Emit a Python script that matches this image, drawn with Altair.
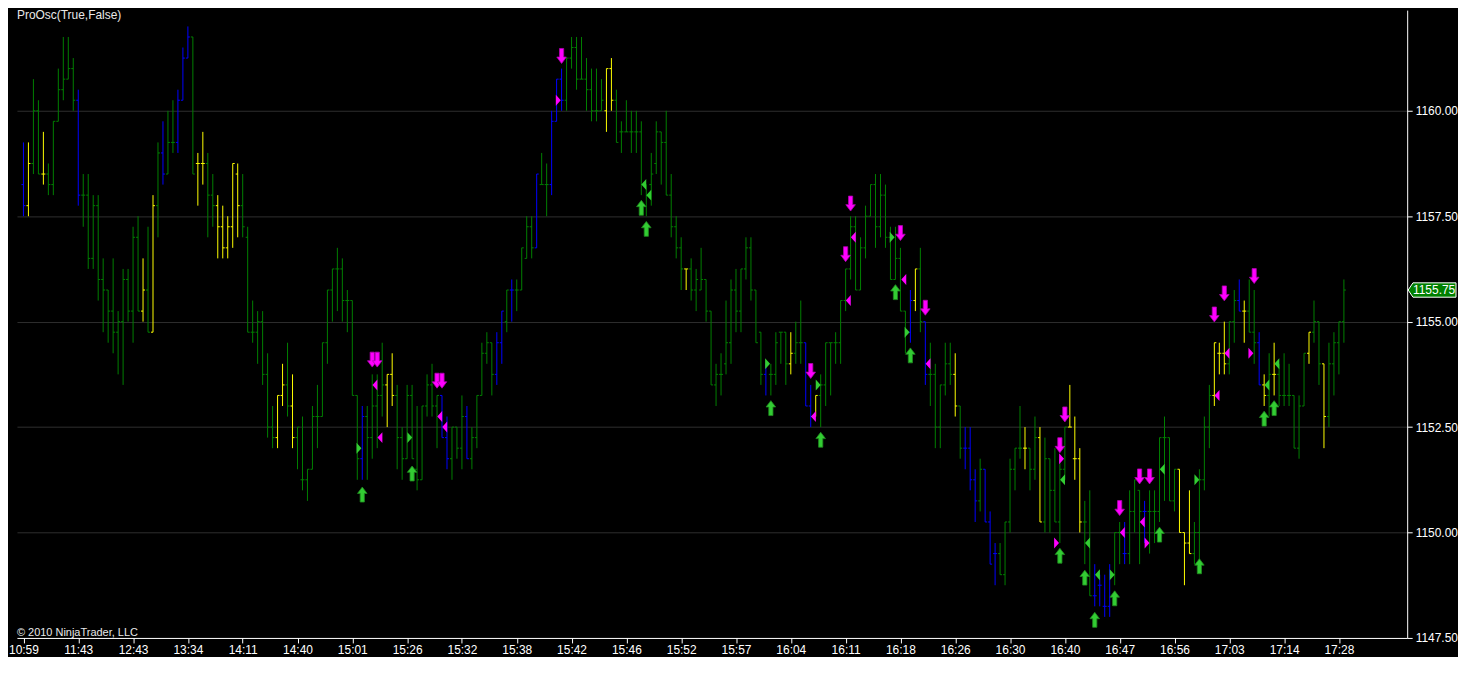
import altair as alt
import pandas as pd

# ---------------- data (one row = 10 bars) ----------------
highs = [
    1159.25,1159.25,1160.75,1160.25,1159.5,1158.75,1159.75,1161.0,1161.75,1161.75,
    1161.25,1160.5,1158.5,1158.5,1158.0,1158.0,1156.5,1155.75,1156.5,1155.25,
    1156.25,1156.25,1157.25,1157.5,1156.5,1157.25,1158.0,1159.25,1159.75,1160.0,
    1160.25,1160.5,1161.5,1162.0,1161.75,1159.0,1159.5,1159.0,1158.5,1158.0,
    1157.75,1157.5,1158.75,1158.75,1158.5,1157.25,1155.5,1155.25,1155.25,1154.25,
    1153.0,1153.25,1154.0,1154.5,1153.75,1152.5,1152.75,1151.5,1153.0,1153.5,
    1154.5,1155.75,1156.25,1156.75,1156.5,1155.75,1155.5,1153.25,1153.0,1153.0,
    1153.75,1153.75,1154.5,1153.75,1154.25,1153.5,1152.5,1153.5,1153.5,1153.0,
    1153.0,1153.75,1154.0,1153.25,1153.25,1152.75,1152.5,1152.5,1153.25,1153.0,
    1152.5,1153.25,1154.5,1154.75,1154.5,1154.75,1155.25,1155.75,1156.0,1156.0,
    1156.75,1157.5,1157.5,1158.5,1159.0,1158.75,1160.0,1160.75,1161.0,1161.25,
    1161.75,1161.75,1161.75,1161.25,1161.0,1161.0,1160.75,1161.0,1161.25,1160.5,
    1159.75,1160.25,1160.0,1160.0,1159.75,1158.25,1159.0,1159.75,1159.5,1160.0,
    1158.5,1157.5,1157.0,1156.25,1156.5,1156.25,1156.75,1156.0,1155.25,1154.0,
    1154.25,1155.5,1156.0,1156.25,1156.25,1157.0,1157.0,1155.75,1154.75,1154.0,
    1154.0,1154.75,1154.75,1154.75,1154.75,1155.0,1155.5,1154.5,1153.5,1153.25,
    1153.75,1154.5,1154.5,1154.75,1155.5,1156.25,1157.5,1157.5,1157.0,1157.75,
    1158.25,1158.5,1158.5,1158.25,1157.25,1157.25,1156.75,1155.25,1155.75,1156.25,
    1156.75,1155.0,1154.5,1154.0,1153.5,1154.5,1154.5,1154.25,1153.0,1152.5,
    1152.5,1151.5,1151.75,1151.5,1150.5,1149.75,1149.75,1150.25,1151.75,1152.0,
    1153.0,1152.5,1152.0,1152.75,1152.5,1152.25,1151.75,1152.0,1151.75,1152.5,
    1153.5,1152.75,1152.0,1150.75,1151.0,1149.25,1149.0,1149.0,1149.25,1150.0,
    1150.25,1150.25,1151.0,1151.25,1151.0,1150.75,1151.0,1151.0,1152.25,1152.75,
    1152.25,1151.5,1151.5,1150.0,1151.0,1150.25,1151.5,1152.75,1153.5,1154.5,
    1154.5,1155.0,1155.0,1155.75,1156.0,1155.5,1156.0,1155.75,1154.75,1153.75,
    1154.25,1154.5,1154.0,1154.25,1154.0,1153.25,1153.25,1154.25,1154.75,1155.5,
    1155.0,1154.0,1154.5,1154.75,1155.0,1156.0]
lows = [
    1157.5,1157.5,1158.5,1158.5,1158.25,1158.0,1158.0,1159.75,1160.25,1160.75,
    1160.0,1157.75,1157.25,1156.25,1156.25,1155.5,1154.75,1154.5,1154.25,1153.75,
    1153.5,1155.0,1154.5,1155.25,1155.0,1154.75,1154.75,1157.0,1158.25,1158.5,
    1159.0,1159.0,1160.25,1161.25,1158.5,1157.75,1158.25,1157.0,1157.25,1156.5,
    1156.5,1156.5,1156.75,1157.0,1157.0,1154.75,1154.5,1154.0,1153.5,1152.25,
    1152.0,1152.0,1153.0,1152.75,1152.0,1151.5,1151.0,1150.75,1151.5,1152.0,
    1152.75,1154.0,1155.0,1155.25,1155.0,1154.75,1153.25,1151.25,1151.25,1151.25,
    1151.75,1152.0,1152.75,1152.5,1153.0,1151.5,1151.25,1151.75,1151.75,1151.0,
    1151.25,1152.75,1152.75,1152.0,1152.25,1151.5,1151.25,1151.75,1151.5,1151.75,
    1151.5,1152.0,1153.25,1154.0,1153.25,1153.5,1154.0,1154.75,1155.0,1155.25,
    1155.75,1156.5,1156.5,1156.75,1158.25,1157.5,1158.0,1159.75,1160.0,1160.0,
    1161.0,1160.5,1160.75,1160.0,1159.75,1159.75,1160.0,1159.5,1160.0,1159.25,
    1159.0,1159.5,1159.0,1159.0,1158.0,1157.5,1157.75,1158.5,1158.25,1158.0,
    1157.0,1156.5,1155.75,1155.75,1155.5,1155.25,1155.75,1155.0,1153.5,1153.0,
    1153.25,1153.75,1154.0,1154.75,1154.75,1156.0,1155.5,1154.5,1153.5,1153.25,
    1153.25,1153.5,1154.0,1153.5,1153.75,1154.0,1154.0,1153.0,1152.5,1152.75,
    1152.5,1153.0,1153.25,1154.0,1154.0,1155.25,1156.0,1155.75,1155.75,1156.5,
    1157.5,1156.75,1157.0,1156.75,1156.0,1156.0,1155.25,1154.25,1154.5,1155.25,
    1154.75,1153.5,1153.0,1152.0,1152.0,1153.25,1153.5,1152.75,1151.75,1151.5,
    1151.0,1150.25,1150.5,1150.25,1149.25,1148.75,1149.0,1148.75,1150.0,1151.0,
    1151.75,1151.5,1151.0,1151.25,1150.25,1150.0,1150.0,1150.25,1149.75,1151.25,
    1152.5,1151.25,1150.0,1149.25,1148.5,1148.25,1148.25,1148.0,1148.0,1148.75,
    1149.25,1149.25,1149.25,1150.0,1149.25,1149.75,1149.5,1149.75,1150.25,1150.75,
    1150.75,1150.5,1150.0,1148.75,1149.5,1149.25,1149.25,1151.0,1152.0,1153.0,
    1153.75,1153.75,1153.75,1154.5,1155.25,1154.5,1154.75,1154.0,1153.5,1153.0,
    1152.75,1153.25,1153.0,1153.0,1153.0,1152.0,1151.75,1153.0,1154.0,1154.5,
    1153.5,1152.0,1152.5,1153.25,1153.75,1154.5]
opens = [
    1158.25,1157.75,1158.75,1160.0,1158.5,1158.5,1158.25,1159.75,1160.5,1160.75,
    1161.0,1160.25,1158.0,1158.0,1156.5,1157.75,1156.0,1155.75,1155.25,1154.75,
    1155.0,1156.0,1155.25,1157.0,1155.25,1155.75,1154.75,1157.75,1159.0,1158.5,
    1159.25,1159.25,1160.25,1161.25,1161.75,1158.75,1158.75,1158.75,1158.0,1157.75,
    1157.25,1156.75,1157.25,1158.5,1157.75,1157.0,1154.75,1154.75,1155.0,1153.75,
    1152.5,1152.25,1153.25,1153.5,1153.0,1152.25,1151.25,1151.25,1151.5,1152.75,
    1152.75,1154.5,1155.75,1156.25,1156.25,1155.5,1155.5,1153.25,1151.75,1152.75,
    1152.25,1153.0,1153.25,1153.5,1153.75,1153.25,1152.25,1151.75,1153.25,1151.5,
    1151.25,1153.0,1153.5,1153.0,1153.25,1152.25,1151.75,1152.5,1152.0,1152.75,
    1151.75,1152.25,1153.25,1154.25,1154.5,1153.75,1154.5,1155.0,1155.75,1155.75,
    1155.75,1156.5,1157.25,1156.75,1158.25,1158.25,1158.25,1159.75,1160.75,1160.25,
    1161.25,1161.5,1160.75,1160.75,1160.5,1160.0,1160.0,1160.0,1161.0,1160.25,
    1159.5,1159.5,1159.5,1159.5,1159.5,1158.25,1158.25,1158.75,1159.5,1159.25,
    1158.0,1157.25,1156.75,1156.25,1156.25,1155.75,1155.75,1156.0,1155.25,1153.5,
    1153.75,1154.0,1154.5,1155.75,1155.25,1156.25,1156.75,1155.75,1154.75,1153.75,
    1153.75,1153.75,1154.75,1154.75,1154.0,1154.25,1154.5,1154.5,1153.0,1152.75,
    1153.25,1153.5,1154.5,1154.5,1154.5,1155.5,1156.25,1157.25,1155.75,1156.75,
    1157.5,1158.25,1157.25,1158.0,1157.0,1156.0,1156.5,1155.25,1154.75,1155.5,
    1156.25,1155.0,1153.75,1153.75,1152.5,1153.5,1154.0,1153.75,1153.0,1152.0,
    1152.0,1151.25,1150.75,1151.5,1150.25,1149.5,1149.5,1149.0,1150.25,1151.5,
    1152.0,1152.0,1152.0,1151.5,1152.25,1150.25,1151.75,1151.0,1150.25,1151.5,
    1152.5,1151.75,1151.75,1150.25,1149.75,1148.5,1148.75,1148.25,1148.25,1149.0,
    1150.0,1149.5,1149.5,1150.5,1151.0,1150.5,1150.5,1150.5,1150.5,1152.25,
    1152.25,1150.75,1151.5,1150.0,1149.75,1149.5,1150.0,1151.25,1152.5,1153.25,
    1154.25,1154.25,1154.0,1155.0,1155.5,1155.25,1155.25,1154.75,1154.5,1153.5,
    1153.25,1153.75,1153.75,1153.25,1153.25,1153.25,1152.0,1153.0,1154.25,1154.75,
    1155.0,1154.0,1152.75,1154.0,1154.5,1155.0]
closes = [
    1157.75,1158.75,1160.0,1158.5,1158.5,1158.25,1159.75,1160.5,1160.75,1161.0,
    1160.25,1158.0,1158.0,1156.5,1157.75,1156.0,1155.75,1155.25,1154.75,1155.0,
    1156.0,1155.25,1157.0,1155.25,1155.75,1154.75,1157.75,1159.0,1158.5,1159.25,
    1159.25,1160.25,1161.25,1161.75,1158.5,1158.75,1158.75,1158.0,1157.75,1157.25,
    1156.75,1157.25,1158.75,1157.75,1157.25,1154.75,1154.75,1155.0,1153.75,1152.5,
    1152.25,1153.25,1153.5,1153.0,1152.25,1152.5,1151.25,1151.5,1152.75,1152.75,
    1154.5,1155.75,1156.25,1156.25,1155.5,1155.5,1153.25,1151.75,1152.75,1152.25,
    1153.0,1153.25,1153.5,1153.75,1153.25,1152.25,1151.75,1153.25,1151.75,1151.25,
    1153.0,1153.5,1153.0,1153.25,1152.25,1151.75,1152.5,1152.0,1152.75,1151.75,
    1152.25,1153.25,1154.25,1154.5,1153.75,1154.5,1155.25,1155.75,1155.75,1155.75,
    1156.75,1157.25,1156.75,1158.5,1158.25,1158.25,1159.75,1160.75,1160.25,1161.25,
    1161.5,1160.75,1160.75,1160.5,1160.0,1160.0,1160.25,1161.0,1160.25,1159.25,
    1159.5,1159.5,1159.5,1159.5,1158.25,1158.0,1158.5,1159.5,1159.25,1158.0,
    1157.25,1156.75,1156.25,1156.25,1155.75,1156.0,1156.0,1155.25,1153.5,1153.75,
    1153.75,1154.5,1155.75,1155.25,1156.25,1156.75,1155.75,1154.5,1153.75,1154.0,
    1153.75,1154.5,1154.75,1154.0,1154.25,1154.5,1154.5,1153.0,1152.75,1153.25,
    1153.5,1154.5,1154.5,1154.5,1155.5,1156.25,1157.25,1155.75,1156.75,1157.5,
    1158.25,1157.25,1158.0,1157.0,1156.0,1156.5,1155.25,1154.75,1155.5,1156.25,
    1155.0,1153.75,1153.75,1152.5,1153.5,1154.0,1153.75,1153.0,1152.0,1152.0,
    1151.25,1150.75,1151.5,1150.25,1149.25,1149.5,1149.0,1150.25,1151.5,1152.0,
    1152.0,1152.0,1151.5,1152.25,1150.25,1151.75,1151.0,1150.25,1151.5,1152.5,
    1152.5,1151.75,1150.25,1150.25,1148.5,1148.5,1148.75,1148.25,1149.0,1150.0,
    1150.0,1149.5,1150.5,1151.25,1150.5,1150.5,1150.5,1150.5,1152.25,1152.25,
    1150.75,1151.5,1150.0,1149.75,1149.5,1150.0,1151.25,1152.5,1153.25,1154.5,
    1154.25,1154.0,1155.0,1155.5,1155.25,1155.25,1154.75,1154.5,1153.5,1153.25,
    1153.75,1153.75,1153.25,1153.25,1153.25,1152.0,1153.0,1154.25,1154.75,1155.0,
    1154.0,1152.75,1154.0,1154.5,1155.0,1155.75]
bar_colors = [
    "b","y","g","g","y","g","g","g","g","g",
    "g","b","g","g","g","g","g","g","g","g",
    "g","g","g","g","y","g","y","g","b","g",
    "g","b","b","b","g","y","y","g","g","y",
    "y","y","y","y","g","g","g","g","g","g",
    "g","y","y","g","y","g","g","g","g","g",
    "g","g","g","g","g","g","g","g","b","g",
    "g","g","g","y","y","g","g","g","g","g",
    "g","g","g","g","b","b","g","g","g","b",
    "g","g","g","g","g","b","b","g","b","g",
    "g","g","g","b","g","g","b","b","b","g",
    "g","g","g","g","g","g","g","y","y","g",
    "g","g","g","g","g","g","g","g","g","g",
    "g","g","g","y","g","g","g","g","g","g",
    "g","g","g","g","g","g","g","g","g","b",
    "g","g","g","g","y","g","g","b","b","y",
    "g","g","g","g","g","g","g","g","g","g",
    "g","g","g","g","g","g","g","g","b","y",
    "g","b","g","g","g","g","g","y","g","b",
    "b","b","g","b","b","b","g","g","g","g",
    "g","y","g","g","y","g","g","g","g","g",
    "y","y","y","g","g","b","b","b","b","g",
    "g","b","g","g","g","b","g","g","g","g",
    "g","g","y","y","y","g","g","g","g","y",
    "y","y","g","g","b","y","g","g","b","y",
    "g","y","g","g","g","g","g","g","y","g",
    "g","y","g","g","g","g"]

time_labels = ["10:59", "11:43", "12:43", "13:34", "14:11", "14:40", "15:01", "15:26",
               "15:32", "15:38", "15:42", "15:46", "15:52", "15:57", "16:04", "16:11",
               "16:18", "16:26", "16:30", "16:40", "16:47", "16:56", "17:03", "17:14",
               "17:28"]

up_arrow_x = [68, 78, 124, 125, 150, 160, 175, 178, 208, 213, 215, 219, 228, 236, 249, 251]
up_arrow_y = [1150.9, 1151.4, 1157.7, 1157.2, 1152.95, 1152.2, 1155.7, 1154.2, 1149.45,
              1148.93, 1147.93, 1148.44, 1149.95, 1149.2, 1152.7, 1152.95]
down_arrow_x = [70, 71, 83, 84, 108, 158, 165, 166, 176, 181, 208, 209, 220, 224, 226,
                239, 241, 247]
down_arrow_y = [1154.1, 1154.1, 1153.6, 1153.6, 1161.3, 1153.83, 1156.6, 1157.8, 1157.1,
                1155.33, 1152.07, 1152.8, 1150.58, 1151.33, 1151.33, 1155.17, 1155.67,
                1156.08]
mag_left_x = [70.54, 71.54, 83.54, 84.54, 158.54, 165.54, 166.54, 176.67, 181.54, 220.54,
              224.54, 239.54, 241.54]
mag_left_y = [1153.5, 1152.25, 1152.75, 1152.5, 1152.75, 1155.5, 1157.0, 1156.0, 1154.0,
              1150.0, 1150.25, 1153.25, 1154.25]
mag_right_x = [107.34, 207.34, 208.34, 225.5, 246.34]
mag_right_y = [1160.25, 1149.75, 1151.75, 1149.75, 1154.25]
grn_left_x = [124.5, 125.5, 208.54, 213.54, 215.54, 228.54, 249.54, 251.54]
grn_left_y = [1158.25, 1158.0, 1151.25, 1149.75, 1149.0, 1151.5, 1153.5, 1154.0]
grn_right_x = [67.34, 77.54, 149.34, 159.5, 174.34, 177.34, 218.5, 235.5]
grn_right_y = [1152.0, 1152.25, 1154.0, 1153.5, 1157.0, 1154.75, 1149.0, 1151.25]

y_ticks = [1147.5, 1150.0, 1152.5, 1155.0, 1157.5, 1160.0]

# ---------------- build ----------------
n = min(len(highs), len(lows), len(opens), len(closes), len(bar_colors))
bars = pd.DataFrame({"i": list(range(n)), "high": highs[:n], "low": lows[:n],
                     "open": opens[:n], "close": closes[:n], "col": bar_colors[:n]})
last_price = [closes[n - 1]]

W, H = 1395, 630
xscale = alt.Scale(domain=[-1.3, 277.7], nice=False, zero=False)
yscale = alt.Scale(domain=[1147.5, 1162.387], nice=False, zero=False)
cscale = alt.Scale(domain=["g", "y", "b"], range=["#008000", "#ffff00", "#0000ff"])

label_js = "[" + ",".join("'%s'" % t for t in time_labels) + "][round(datum.value/11)]"
xaxis = alt.Axis(values=[11 * k for k in range(len(time_labels))], labelExpr=label_js,
                 grid=False, domainColor="white", tickColor="white", tickSize=5,
                 labelColor="white", labelFont="Liberation Sans", labelFontSize=12,
                 labelPadding=2, title=None, labelFlush=False)
yaxis = alt.Axis(orient="right", values=y_ticks, format=".2f", grid=True,
                 gridColor="#2e2e2e", domainColor="white", tickColor="white",
                 tickSize=5, labelColor="white", labelFont="Liberation Sans",
                 labelFontSize=12, labelPadding=3, title=None)

base = alt.Chart(bars)
hl = base.mark_rule(strokeWidth=1).encode(
    x=alt.X("i:Q", scale=xscale, axis=xaxis),
    y=alt.Y("high:Q", scale=yscale, axis=yaxis),
    y2="low:Q",
    color=alt.Color("col:N", scale=cscale, legend=None),
)
otick = base.transform_calculate(xo="datum.i - 0.4").mark_rule(strokeWidth=1).encode(
    x=alt.X("xo:Q", scale=xscale), x2="i:Q", y=alt.Y("open:Q", scale=yscale),
    color=alt.Color("col:N", scale=cscale, legend=None))
ctick = base.transform_calculate(xc="datum.i + 0.4").mark_rule(strokeWidth=1).encode(
    x=alt.X("xc:Q", scale=xscale), x2="i:Q", y=alt.Y("close:Q", scale=yscale),
    color=alt.Color("col:N", scale=cscale, legend=None))

UP = "M0,-1L0.64,-0.15L0.28,-0.15L0.28,1L-0.28,1L-0.28,-0.15L-0.64,-0.15Z"
DOWN = "M0,1L0.64,0.15L0.28,0.15L0.28,-1L-0.28,-1L-0.28,0.15L-0.64,0.15Z"
LEFT = "M-0.45,0L0.45,-1L0.45,1Z"
RIGHT = "M0.45,0L-0.45,-1L-0.45,1Z"


def markers(xs, ys, shape, color, size, stroke=None):
    df = pd.DataFrame({"x": xs, "y": ys})
    kw = dict(shape=shape, filled=True, size=size, fill=color, opacity=1)
    if stroke:
        kw.update(stroke=stroke, strokeWidth=0.8)
    else:
        kw.update(strokeWidth=0)
    return alt.Chart(df).mark_point(**kw).encode(
        x=alt.X("x:Q", scale=xscale), y=alt.Y("y:Q", scale=yscale))


layers = [hl, otick, ctick,
          markers(up_arrow_x, up_arrow_y, UP, "#33cc33", 225, "#1f8a1f"),
          markers(down_arrow_x, down_arrow_y, DOWN, "#ff00ff", 225, "#b000b0"),
          markers(mag_left_x, mag_left_y, LEFT, "#ff00ff", 121),
          markers(mag_right_x, mag_right_y, RIGHT, "#ff00ff", 121),
          markers(grn_left_x, grn_left_y, LEFT, "#33cc33", 121),
          markers(grn_right_x, grn_right_y, RIGHT, "#33cc33", 121)]

tag_df = pd.DataFrame({"p": last_price, "t": ["%.2f" % v for v in last_price]})
TAG = "M-1,0L-0.8,-0.3L1,-0.3L1,0.3L-0.8,0.3Z"
tag = alt.Chart(tag_df).mark_point(shape=TAG, filled=True, size=2304, fill="#008000",
                                   stroke="white", strokeWidth=1, opacity=1).encode(
    x=alt.value(W + 25), y=alt.Y("p:Q", scale=yscale))
tag_text = alt.Chart(tag_df).mark_text(color="white", fontSize=12, font="Liberation Sans",
                                       align="center", baseline="middle").encode(
    x=alt.value(W + 27), y=alt.Y("p:Q", scale=yscale), text="t:N")

title_df = pd.DataFrame({"t": ["ProOsc(True,False)"]})
title_txt = alt.Chart(title_df).mark_text(color="#e8e8e8", fontSize=12,
                                          font="Liberation Sans", align="left",
                                          baseline="top").encode(
    x=alt.value(0), y=alt.value(0), text="t:N")
copy_df = pd.DataFrame({"t": ["© 2010 NinjaTrader, LLC"]})
copy_txt = alt.Chart(copy_df).mark_text(color="#e8e8e8", fontSize=11,
                                        font="Liberation Sans", align="left",
                                        baseline="bottom").encode(
    x=alt.value(0), y=alt.value(H), text="t:N")

chart = alt.layer(*layers, tag, tag_text, title_txt, copy_txt).properties(
    width=W, height=H, background="black", padding=0
).configure_view(stroke=None).configure_axis(domainWidth=1)

chart.save("out.html", embed_options={"renderer": "svg", "actions": False})
